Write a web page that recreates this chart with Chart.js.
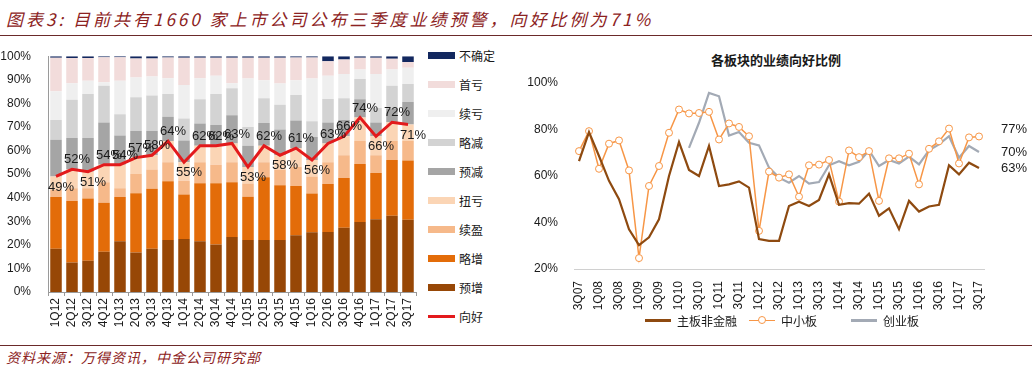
<!DOCTYPE html>
<html>
<head>
<meta charset="utf-8">
<script src="https://cdn.jsdelivr.net/npm/chart.js@4.4.1/dist/chart.umd.min.js"></script>
<style>
  body { margin: 0; background: #fff; }
  #page { position: relative; width: 1032px; height: 373px; overflow: hidden; font-family: 'Liberation Sans', 'Noto Sans CJK SC', sans-serif; color: #1a1a1a; }
  .title { position: absolute; left: 6px; top: 6px; font-size: 17px; font-style: italic; color: #8c2222; letter-spacing: 3px; font-family: 'Noto Sans CJK SC', sans-serif; }
  .rule { position: absolute; left: 0; width: 1032px; height: 1px; background: #6b2a2a; }
  .source { position: absolute; left: 6px; top: 347px; font-size: 14px; font-style: italic; color: #8c2222; letter-spacing: 1px; font-family: 'Noto Sans CJK SC', sans-serif; }
  canvas { position: absolute; }
  #legendLeft { position: absolute; left: 428px; top: 41px; font-size: 12px; }
  #legendLeft .row { height: 29px; display: flex; align-items: center; }
  #legendLeft .sw { width: 27px; height: 7px; margin-right: 4px; }
  .subtitle { position: absolute; left: 520px; width: 512px; top: 50px; text-align: center; font-size: 13px; font-weight: bold; font-family: 'Noto Sans CJK SC', sans-serif; }
  #legendRight { position: absolute; left: 645px; top: 312px; display: flex; font-size: 12px; }
  #legendRight .item { display: flex; align-items: center; }
  #legendRight .item + .item { margin-left: 12px; }
  #legendRight .item:last-child { margin-left: 34px; }
  #legendRight .ln { position: relative; width: 26px; margin-right: 6px; }
  #legendRight .dot { position: absolute; left: 9px; top: -4px; width: 6px; height: 6px; border-radius: 50%; background: #fff; border: 1px solid #f79646; }
</style>
</head>
<body>
<div id="page">
  <div class="title">图表3: 目前共有1660 家上市公司公布三季度业绩预警，向好比例为71%</div>
  <div class="rule" style="top:35px"></div>
  <canvas id="barChart" width="428" height="300" style="left:0;top:40px"></canvas>
  <div id="legendLeft"></div>
  <div class="subtitle">各板块的业绩向好比例</div>
  <canvas id="boardChart" width="512" height="300" style="left:520px;top:40px"></canvas>
  <div id="legendRight"></div>
  <div class="rule" style="top:345px"></div>
  <div class="source">资料来源：万得资讯，中金公司研究部</div>
</div>
<script>
// left chart: share of each forecast type per quarter (%)
const quarters = ['1Q12','2Q12','3Q12','4Q12','1Q13','2Q13','3Q13','4Q13','1Q14','2Q14','3Q14','4Q14',
  '1Q15','2Q15','3Q15','4Q15','1Q16','2Q16','3Q16','4Q16','1Q17','2Q17','3Q17'];
const yuZeng    = [18.3,12.5,13.2,17.1,21.5,16.7,18.3,22.0,22.5,21.5,20.1,23.3,22.0,22.0,22.0,24.1,25.3,25.4,27.2,29.7,30.9,32.3,30.6];
const lueZeng   = [22.0,26.1,26.4,20.7,18.8,25.2,25.5,25.0,18.8,24.6,26.0,23.2,18.4,26.7,23.3,20.9,16.5,20.4,21.1,24.6,19.6,23.7,25.2];
const xuYing    = [3.2,5.4,4.4,8.7,3.7,8.1,8.2,8.0,5.9,8.9,7.9,8.5,5.6,6.3,6.7,8.0,7.2,9.2,9.7,9.7,7.5,8.0,8.2];
const niuKui    = [5.5,8.0,7.0,7.5,10.0,7.0,6.0,9.0,7.8,7.0,8.0,8.0,7.0,7.0,6.0,8.0,7.0,8.0,8.0,10.0,8.0,8.0,7.0];
const yuJian    = [15.6,13.3,14.3,17.9,12.4,11.3,10.3,10.3,9.2,9.5,8.8,12.0,9.0,9.7,10.9,11.7,9.7,8.9,6.9,7.7,5.9,5.8,9.6];
const lueJian   = [8.3,16.2,18.7,15.6,9.0,14.3,15.0,9.7,9.4,10.2,13.2,11.4,8.0,10.5,10.5,10.8,6.7,10.0,9.3,8.6,6.1,9.7,7.6];
const xuKui     = [12.2,7.0,5.6,1.4,14.2,8.4,8.1,6.6,14.2,8.9,7.7,2.1,20.5,7.6,9.0,6.3,18.1,9.8,10.2,4.1,14.4,6.9,6.9];
const shouKui   = [14.2,10.7,9.6,10.7,10.0,8.0,7.6,8.9,11.5,8.7,7.6,10.8,8.8,9.5,10.9,9.6,8.9,6.2,6.2,4.9,6.9,4.5,2.4];
const buQueDing = [0.7,0.8,0.8,0.4,0.4,1.0,1.0,0.5,0.7,0.7,0.7,0.7,0.7,0.7,0.7,0.6,0.6,2.1,1.4,0.7,0.7,1.1,2.5];
const xiangHao  = [49,52,51,54,54,57,58,64,55,62,62,63,53,62,58,61,56,63,66,74,66,72,71];
const yTicksLeft = [0,10,20,30,40,50,60,70,80,90,100];

// right chart: share of positive forecasts by board (%)
const boardQuarters = ['3Q07','4Q07','1Q08','2Q08','3Q08','4Q08','1Q09','2Q09','3Q09','4Q09','1Q10','2Q10','3Q10','4Q10',
  '1Q11','2Q11','3Q11','4Q11','1Q12','2Q12','3Q12','4Q12','1Q13','2Q13','3Q13','4Q13','1Q14','2Q14','3Q14','4Q14',
  '1Q15','2Q15','3Q15','4Q15','1Q16','2Q16','3Q16','4Q16','1Q17','2Q17','3Q17'];
const mainBoard = [66.4,78.9,68.6,57.9,50.0,37.1,30.3,33.6,41.4,60.0,74.6,62.6,60.0,72.9,55.7,56.4,57.7,55.0,32.9,32.1,32.1,
  47.1,48.9,47.1,49.7,60.7,47.6,48.3,48.1,52.4,42.9,46.1,37.1,49.3,44.7,46.9,47.6,64.6,60.7,65.7,63.4];
const smeBoard = [70.7,79.3,63.1,73.9,75.3,62.4,24.7,55.7,64.3,78.6,88.6,86.9,87.1,87.6,75.7,82.6,81.1,77.1,36.4,61.9,59.3,
  60.7,51.1,64.6,64.9,66.9,49.0,71.0,68.1,70.7,49.3,67.6,67.6,69.6,56.4,71.7,74.9,80.4,65.4,76.6,77.0];
const chinext = [null,null,null,null,null,null,null,null,null,null,null,72.1,82.9,95.7,94.3,77.4,78.9,74.3,73.2,63.6,59.3,
  57.1,60.0,56.7,57.4,64.6,66.4,64.6,66.1,71.0,64.3,66.9,65.4,68.3,65.0,71.0,73.6,77.1,67.9,72.9,70.3];
const yTicksRight = [20,40,60,80,100];

const FONT = "'Liberation Sans', 'Noto Sans CJK SC', sans-serif";
Chart.defaults.font.family = FONT;
Chart.defaults.color = '#1a1a1a';

const stackSeries = [
  { label: '预增', data: yuZeng, color: '#974706' },
  { label: '略增', data: lueZeng, color: '#e36c09' },
  { label: '续盈', data: xuYing, color: '#f6b98a' },
  { label: '扭亏', data: niuKui, color: '#fbd5b5' },
  { label: '预减', data: yuJian, color: '#a5a5a5' },
  { label: '略减', data: lueJian, color: '#d3d3d3' },
  { label: '续亏', data: xuKui, color: '#efefef' },
  { label: '首亏', data: shouKui, color: '#f2dcdb' },
  { label: '不确定', data: buQueDing, color: '#13285f' }
];
const lineColor = '#e31a1c';

// value labels on the red line, above when rising, below when falling
const lineLabels = {
  id: 'lineLabels',
  afterDatasetsDraw(chart) {
    const ctx = chart.ctx;
    const meta = chart.getDatasetMeta(0);
    const vals = chart.data.datasets[0].data;
    ctx.save();
    ctx.font = '13px ' + FONT;
    ctx.fillStyle = '#1a1a1a';
    ctx.textAlign = 'center';
    meta.data.forEach((pt, i) => {
      const up = i > 0 && vals[i] >= vals[i - 1];
      ctx.textBaseline = up ? 'bottom' : 'top';
      ctx.fillText(vals[i] + '%', pt.x + 5, up ? pt.y - 3 : pt.y + 4);
    });
    ctx.restore();
  }
};

new Chart(document.getElementById('barChart'), {
  type: 'bar',
  data: {
    labels: quarters,
    datasets: [
      { type: 'line', label: '向好', data: xiangHao, borderColor: lineColor, borderWidth: 3, pointRadius: 0, stack: 'line', order: 0 },
      ...stackSeries.map(s => ({ label: s.label, data: s.data, backgroundColor: s.color, stack: 'bars', order: 1,
        barPercentage: 0.72, categoryPercentage: 1 }))
    ]
  },
  options: {
    responsive: false,
    animation: false,
    layout: { padding: { top: 12, right: 12, left: 0, bottom: 0 } },
    plugins: { legend: { display: false }, tooltip: { enabled: false } },
    scales: {
      x: {
        stacked: true,
        afterFit: s => { s.height = 48; },
        grid: { display: true, drawOnChartArea: false, tickLength: 4, color: '#9a9a9a' },
        border: { color: '#9a9a9a' },
        ticks: { autoSkip: false, minRotation: 90, maxRotation: 90, font: { size: 12 }, padding: 2 }
      },
      y: {
        stacked: true,
        min: 0, max: 100,
        afterFit: s => { s.width = 48; },
        afterBuildTicks: s => { s.ticks = yTicksLeft.map(v => ({ value: v })); },
        grid: { display: false },
        border: { display: true, color: '#9a9a9a' },
        ticks: { font: { size: 12 }, padding: 9, callback: v => v + '%' }
      }
    }
  },
  plugins: [lineLabels]
});

// html legend for left chart, top entry first
const legendLeft = document.getElementById('legendLeft');
stackSeries.slice().reverse().forEach(s => {
  legendLeft.insertAdjacentHTML('beforeend',
    `<div class="row"><span class="sw" style="background:${s.color}"></span>${s.label}</div>`);
});
legendLeft.insertAdjacentHTML('beforeend',
  `<div class="row"><span class="sw" style="height:3px;background:${lineColor}"></span>向好</div>`);

const boardSeries = [
  { label: '主板非金融', data: mainBoard, color: '#8e4a10', width: 2.2, points: false },
  { label: '中小板', data: smeBoard, color: '#f79646', width: 1.5, points: true },
  { label: '创业板', data: chinext, color: '#a3aab5', width: 2.2, points: false }
];

// end-of-line value labels
const endLabels = {
  id: 'endLabels',
  afterDatasetsDraw(chart) {
    const ctx = chart.ctx;
    ctx.save();
    ctx.font = '13px ' + FONT;
    ctx.fillStyle = '#1a1a1a';
    ctx.textAlign = 'left';
    ctx.textBaseline = 'middle';
    chart.data.datasets.forEach((ds, i) => {
      const pts = chart.getDatasetMeta(i).data;
      const last = pts[pts.length - 1];
      const v = ds.data[ds.data.length - 1];
      const shift = i === 1 ? -7 : 0;
      ctx.fillText(Math.round(v) + '%', last.x + 22, last.y + shift);
    });
    ctx.restore();
  }
};

new Chart(document.getElementById('boardChart'), {
  type: 'line',
  data: {
    labels: boardQuarters,
    datasets: boardSeries.map(s => ({
      label: s.label, data: s.data, borderColor: s.color, borderWidth: s.width,
      pointRadius: s.points ? 3.5 : 0, pointBackgroundColor: '#fff', pointBorderColor: s.color, pointBorderWidth: 1,
      spanGaps: false, tension: 0
    }))
  },
  options: {
    responsive: false,
    animation: false,
    layout: { padding: { top: 43, right: 48, left: 0, bottom: 0 } },
    plugins: { legend: { display: false }, tooltip: { enabled: false } },
    scales: {
      x: {
        offset: true,
        afterFit: s => { s.height = 71; },
        grid: { display: false },
        border: { display: true, color: '#d0d0d0' },
        ticks: {
          autoSkip: false, minRotation: 90, maxRotation: 90, font: { size: 12 }, padding: 4,
          callback: function (v, i) { return i % 2 === 0 ? this.getLabelForValue(v) : ''; }
        }
      },
      y: {
        min: 20, max: 100,
        afterFit: s => { s.width = 54; },
        afterBuildTicks: s => { s.ticks = yTicksRight.map(v => ({ value: v })); },
        grid: { display: false },
        border: { display: false },
        ticks: { font: { size: 12 }, padding: 8, callback: v => v + '%' }
      }
    }
  },
  plugins: [endLabels]
});

const legendRight = document.getElementById('legendRight');
boardSeries.forEach(s => {
  const dot = s.points ? '<span class="dot"></span>' : '';
  legendRight.insertAdjacentHTML('beforeend',
    `<div class="item"><span class="ln" style="height:${s.width}px;background:${s.color}">${dot}</span>${s.label}</div>`);
});
</script>
</body>
</html>
